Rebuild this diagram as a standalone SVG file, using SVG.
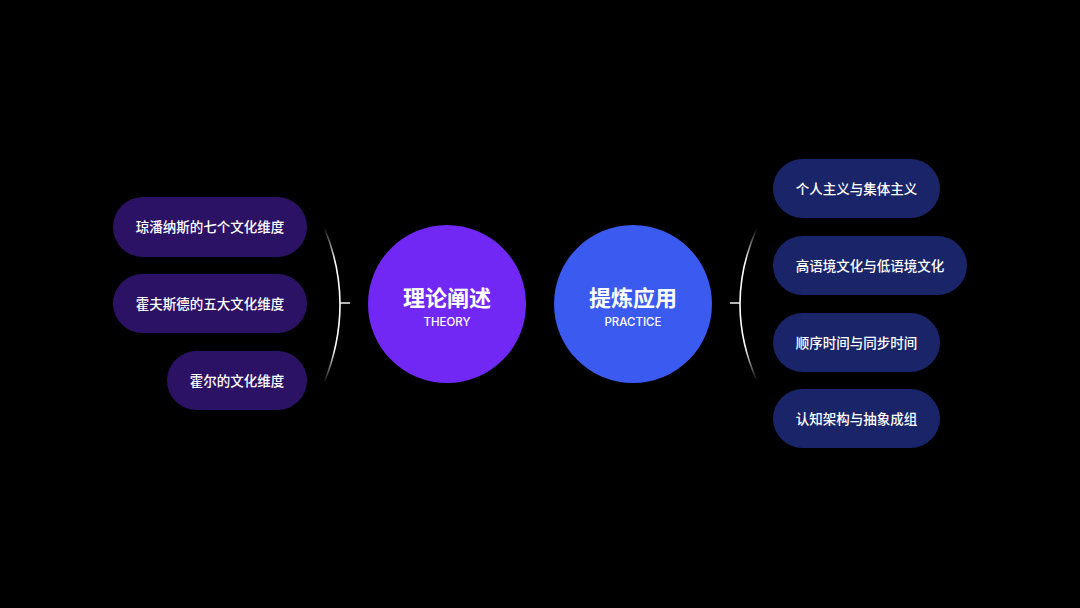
<svg xmlns="http://www.w3.org/2000/svg" width="1080" height="608" viewBox="0 0 1080 608">
  <defs>
    <style>
      .pill-l { fill: #2c1265; }
      .pill-r { fill: #1a2468; }
      .pt { font-family: "Noto Sans CJK SC", "Noto Sans", sans-serif; font-size: 13.5px; font-weight: 500; fill: #ffffff; text-anchor: middle; }
      .ct { font-family: "Noto Sans CJK SC", "Noto Sans", sans-serif; font-size: 22px; font-weight: 700; fill: #ffffff; text-anchor: middle; }
      .cs { font-family: "Inter", "Noto Sans", "Liberation Sans", sans-serif; font-size: 11.5px; font-weight: 500; fill: #ffffff; text-anchor: middle; }
      .arc { fill: none; stroke: url(#fade); stroke-width: 1.6; }
      .tick { stroke: #ffffff; stroke-width: 1.4; }
    </style>
    <linearGradient id="fade" x1="0" y1="0" x2="0" y2="1">
      <stop offset="0" stop-color="#ffffff" stop-opacity="0"/>
      <stop offset="0.22" stop-color="#ffffff" stop-opacity="1"/>
      <stop offset="0.78" stop-color="#ffffff" stop-opacity="1"/>
      <stop offset="1" stop-color="#ffffff" stop-opacity="0"/>
    </linearGradient>
  </defs>
  <rect width="1080" height="608" fill="#000000"/>

  <g id="connectors">
    <path class="arc" d="M324,227 Q356,304 324,383"/>
    <line class="tick" x1="340" y1="303" x2="350" y2="303"/>
    <path class="arc" d="M757,228 Q723,304 757,381"/>
    <line class="tick" x1="730" y1="303" x2="740" y2="303"/>
  </g>

  <g id="theory">
    <circle cx="447" cy="304" r="79" fill="#7228f4"/>
    <text class="ct" x="447" y="306">理论阐述</text>
    <text class="cs" x="447" y="326">THEORY</text>
  </g>
  <g id="practice">
    <circle cx="633" cy="304" r="79" fill="#3a5af0"/>
    <text class="ct" x="633" y="306">提炼应用</text>
    <text class="cs" x="633" y="326">PRACTICE</text>
  </g>

  <g id="l1">
    <rect class="pill-l" x="113" y="197" width="194" height="60" rx="30"/>
    <text class="pt" x="210" y="232">琼潘纳斯的七个文化维度</text>
  </g>
  <g id="l2">
    <rect class="pill-l" x="113" y="274" width="194" height="59" rx="29.5"/>
    <text class="pt" x="210" y="308.5">霍夫斯德的五大文化维度</text>
  </g>
  <g id="l3">
    <rect class="pill-l" x="167" y="351" width="140" height="59" rx="29.5"/>
    <text class="pt" x="237" y="385.5">霍尔的文化维度</text>
  </g>

  <g id="r1">
    <rect class="pill-r" x="773" y="159" width="167" height="59" rx="29.5"/>
    <text class="pt" x="856.5" y="193.5">个人主义与集体主义</text>
  </g>
  <g id="r2">
    <rect class="pill-r" x="773" y="236" width="194" height="59" rx="29.5"/>
    <text class="pt" x="870" y="270.5">高语境文化与低语境文化</text>
  </g>
  <g id="r3">
    <rect class="pill-r" x="773" y="313" width="167" height="59" rx="29.5"/>
    <text class="pt" x="856.5" y="347.5">顺序时间与同步时间</text>
  </g>
  <g id="r4">
    <rect class="pill-r" x="773" y="389" width="167" height="59" rx="29.5"/>
    <text class="pt" x="856.5" y="423.5">认知架构与抽象成组</text>
  </g>
</svg>
